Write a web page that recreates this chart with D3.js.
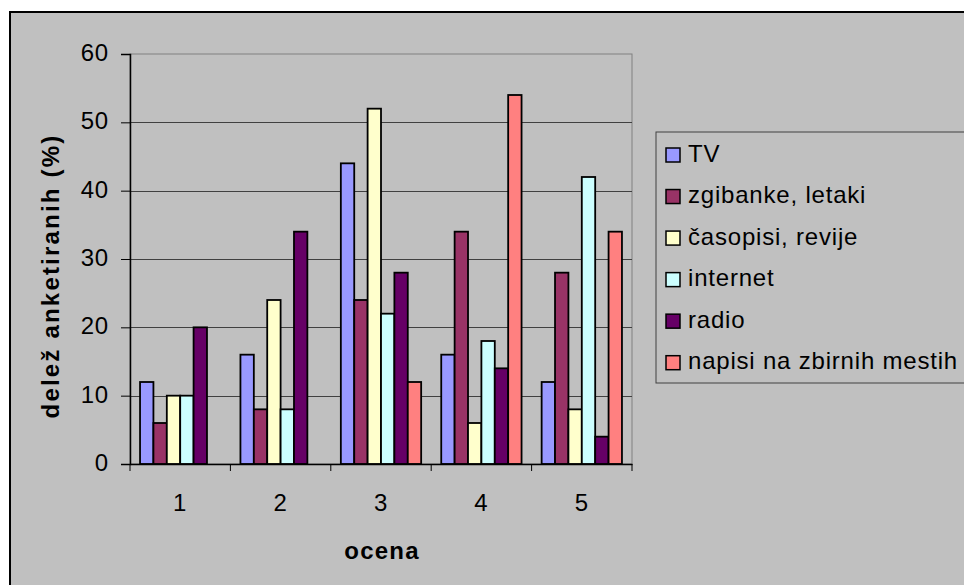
<!DOCTYPE html>
<html><head><meta charset="utf-8">
<script src="https://cdn.jsdelivr.net/npm/d3@7/dist/d3.min.js"></script>
<style>
html,body{margin:0;padding:0;background:#fff;}
text{font-family:"Liberation Sans",Arial,sans-serif;}
</style></head>
<body><svg id="c" width="964" height="585"></svg>
<script>
const categories = ["1","2","3","4","5"];
const seriesNames = ["TV","zgibanke, letaki","časopisi, revije","internet","radio","napisi na zbirnih mestih"];
const seriesColors = ["#9999FF","#993366","#FFFFCC","#CCFFFF","#660066","#FF8080"];
const tvValues      = [12,16,44,16,12];
const zgibankeValues= [6,8,24,34,28];
const casopisiValues= [10,24,52,6,8];
const internetValues= [10,8,22,18,42];
const radioValues   = [20,34,28,14,4];
const napisiValues  = [0,0,12,54,34];
const yTicks = [0,10,20,30,40,50,60];
const yTitle = "delež anketiranih (%)";
const xTitle = "ocena";

const seriesValues = [tvValues,zgibankeValues,casopisiValues,internetValues,radioValues,napisiValues];
const FS = 24, LS = 0.8;

const svg = d3.select("#c");
svg.append("rect").attr("x",10).attr("y",12).attr("width",964).attr("height",585)
  .attr("fill","#C0C0C0").attr("stroke","#000").attr("stroke-width",2);

const L=130, R=632, T=54, B=464;
const x = d3.scaleBand().domain(categories).range([L,R]).paddingInner(0).paddingOuter(0);
// Excel gap width 150%: 6 bars + 1.5 bar-width gap per category
const bw = x.bandwidth()/7.5;
const y = d3.scaleLinear().domain([0,60]).range([B,T]);

svg.append("rect").attr("x",L).attr("y",T).attr("width",R-L).attr("height",B-T)
  .attr("fill","none").attr("stroke","#808080").attr("stroke-width",1);

svg.append("g").selectAll("line").data(yTicks.filter(d=>d>0 && d<60)).join("line")
  .attr("x1",L).attr("x2",R).attr("y1",d=>Math.round(y(d))+0.5).attr("y2",d=>Math.round(y(d))+0.5)
  .attr("stroke","#404040").attr("stroke-width",1);

const g = svg.append("g");
seriesValues.forEach((vals,si)=>{
  g.selectAll(null).data(vals.map((v,i)=>({c:categories[i],v}))).join("rect")
    .filter(d=>d.v>0)
    .attr("x",d=>x(d.c)+bw*0.75+si*bw)
    .attr("y",d=>y(d.v))
    .attr("width",bw)
    .attr("height",d=>B-y(d.v))
    .attr("fill",seriesColors[si])
    .attr("stroke","#000").attr("stroke-width",1.8);
});

const yAxis = d3.axisLeft(y).tickValues(yTicks).tickSize(9).tickPadding(12);
const ya = svg.append("g").attr("transform",`translate(${L},0)`).call(yAxis);
ya.select(".domain").attr("stroke","#000").attr("stroke-width",1.5);
ya.selectAll(".tick line").attr("stroke","#000");
ya.selectAll("text").attr("font-size",FS).attr("letter-spacing",LS).attr("fill","#000").attr("dy","0.27em")
  .attr("font-family","'Liberation Sans',Arial,sans-serif");

const xAxis = d3.axisBottom(x).tickSize(0).tickPadding(30);
const xa = svg.append("g").attr("transform",`translate(0,${B})`).call(xAxis);
xa.select(".domain").attr("stroke","#000").attr("stroke-width",1.5);
xa.selectAll("text").attr("font-size",FS).attr("letter-spacing",LS).attr("fill","#000")
  .attr("font-family","'Liberation Sans',Arial,sans-serif");
xa.selectAll("line.bt").data(categories.concat(["end"])).join("line").attr("class","bt")
  .attr("x1",(d,i)=>L+i*x.step()).attr("x2",(d,i)=>L+i*x.step())
  .attr("y1",0).attr("y2",7).attr("stroke","#000").attr("stroke-width",1);

svg.append("text").attr("x",382).attr("y",559).attr("text-anchor","middle")
  .attr("font-size",FS).attr("font-weight","bold").attr("letter-spacing",1.2).text(xTitle);
svg.append("text").attr("transform","translate(59,276) rotate(-90)").attr("text-anchor","middle")
  .attr("font-size",FS).attr("font-weight","bold").attr("letter-spacing",2.2).text(yTitle);

const lg = svg.append("g");
lg.append("rect").attr("x",656).attr("y",132).attr("width",330).attr("height",251)
  .attr("fill","#C0C0C0").attr("stroke","#404040").attr("stroke-width",1);
const rowY = d3.scaleLinear().domain([0,5]).range([155,362.7]);
seriesNames.forEach((n,i)=>{
  lg.append("rect").attr("x",666).attr("y",rowY(i)-7).attr("width",14).attr("height",14)
    .attr("fill",seriesColors[i]).attr("stroke","#000").attr("stroke-width",1.5);
  lg.append("text").attr("x",688).attr("y",rowY(i)+6.5)
    .attr("font-size",FS).attr("letter-spacing",LS).text(n);
});
</script></body></html>
